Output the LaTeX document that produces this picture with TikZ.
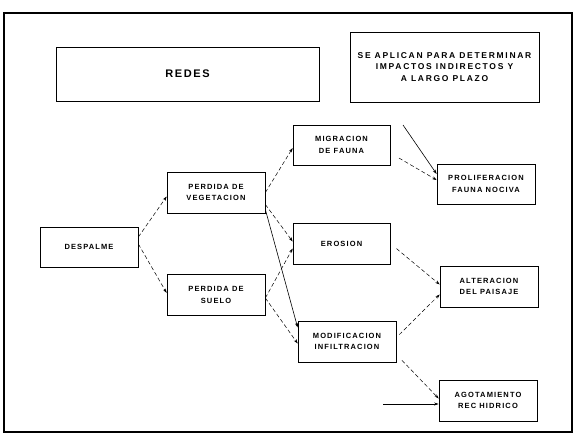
\documentclass[tikz,border=0pt]{standalone}
\usepackage{fontspec}
\setmainfont{Liberation Sans}[LetterSpace=15]
\usepackage{tikz}
\usetikzlibrary{arrows.meta,positioning,calc}

\begin{document}
\begin{tikzpicture}[
  x=1pt, y=-1pt,
  caja/.style={draw, line width=0.7pt, minimum width=98pt, minimum height=41pt, align=center, inner sep=1pt, font=\fontsize{7.5}{11.5}\selectfont\bfseries},
  flecha/.style={-{Stealth[length=4.5pt,width=3pt]}, line width=0.5pt, dash pattern=on 4pt off 2.5pt},
  recta/.style={-{Stealth[length=4.5pt,width=3pt]}, line width=0.6pt}
]
\useasboundingbox (0,0) rectangle (577,434);
\draw[line width=1.3pt] (4,13) rectangle (572,432);

\node[caja, minimum width=263pt, minimum height=54pt, font=\fontsize{11}{13}\selectfont\bfseries] (redes) at (187.5,74) {REDES};
\node[caja, minimum width=189pt, minimum height=70pt, font=\fontsize{8.5}{11.5}\selectfont\bfseries\addfontfeatures{LetterSpace=20}] (nota) at (444.5,67) {SE APLICAN PARA DETERMINAR\\IMPACTOS INDIRECTOS Y\\A LARGO PLAZO};
\node[caja, minimum height=40pt] (despalme) at (89,247) {DESPALME};
\node[caja] (pveg)    at (216,192.5) {PERDIDA DE\\VEGETACION};
\node[caja] (psuelo)  at (216,295)   {PERDIDA DE\\SUELO};
\node[caja, minimum width=97pt, minimum height=40pt] (migra)   at (341.5,145)   {MIGRACION\\DE FAUNA};
\node[caja, minimum width=97pt] (erosion) at (341.5,243.5) {EROSION};
\node[caja, minimum height=40pt] (prolif)  at (486,184)     {PROLIFERACION\\FAUNA NOCIVA};
\node[caja] (alter)   at (489,286.5)   {ALTERACION\\DEL PAISAJE};
\node[caja] (modif)   at (347,341.5)   {MODIFICACION\\INFILTRACION};
\node[caja] (agot)    at (488,400.5)   {AGOTAMIENTO\\REC HIDRICO};
\coordinate (libreA) at (403,125);
\coordinate (libreB) at (383,404);

\draw[flecha] ([yshift=10pt]despalme.east) -- ([yshift=-4pt]pveg.west);
\draw[flecha] ([yshift=3pt]despalme.east) -- ([yshift=2pt]psuelo.west);
\draw[flecha] (pveg.east) -- ([yshift=-3pt]migra.west);
\draw[flecha] ([yshift=-12pt]pveg.east) -- ([yshift=2pt]erosion.west);
\draw[recta] ([yshift=-17pt]pveg.east) -- ([yshift=14pt]modif.west);
\draw[flecha] ([yshift=-3pt]psuelo.east) -- ([yshift=-5pt]erosion.west);
\draw[flecha] ([yshift=-3pt]psuelo.east) -- ([yshift=-2pt]modif.west);
\draw[flecha, shorten <=10pt] ([yshift=-8pt]migra.east) -- ([yshift=4pt]prolif.west);
\draw[recta] (libreA) -- ([yshift=10pt]prolif.west);
\draw[flecha, shorten <=8pt] (erosion.east) -- ([yshift=2pt]alter.west);
\draw[flecha, shorten <=4pt] ([yshift=4pt]modif.east) -- ([yshift=-8pt]alter.west);
\draw[flecha, shorten <=8pt] ([yshift=-13pt]modif.east) -- ([yshift=2pt]agot.west);
\draw[recta] (libreB) -- ([yshift=-3.5pt]agot.west);
\end{tikzpicture}
\end{document}
